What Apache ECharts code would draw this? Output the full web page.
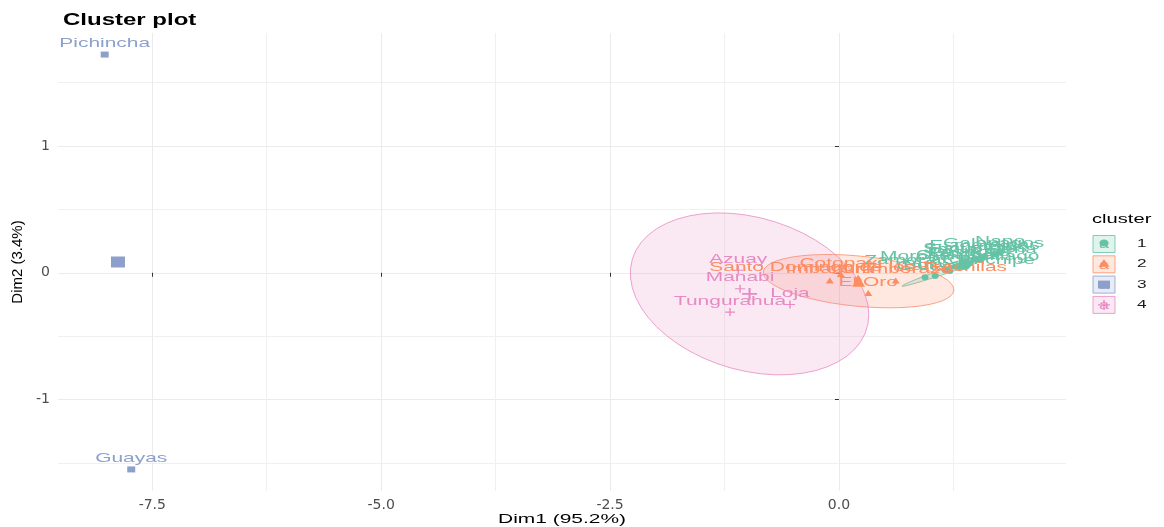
<!DOCTYPE html>
<html>
<head>
<meta charset="utf-8">
<title>Cluster plot</title>
<script src="https://cdn.jsdelivr.net/npm/echarts@6/dist/echarts.min.js"></script>
<style>
  html, body { margin: 0; padding: 0; background: #fff; }
  #chart { width: 1164px; height: 527px; }
</style>
</head>
<body>
<div id="chart"></div>
<script>
// values (Dim1, Dim2 per province)
const names1 = ['Canar', 'Bolivar', 'Carchi', 'Zamora Chinchipe', 'Orellana', 'Morona Santiago', 'Pastaza',
  'Los Rios', 'Sucumbios', 'Santa Elena', 'Esmeraldas', 'Galapagos', 'Napo']
const dim1c1 = [0.94, 1.05, 1.16, 1.21, 1.27, 1.32, 1.38, 1.43, 1.49, 1.54, 1.59, 1.69, 1.76]
const dim2c1 = [-0.035, -0.025, 0.02, 0.015, 0.05, 0.045, 0.075, 0.075, 0.105, 0.10, 0.13, 0.145, 0.16]

const names2 = ['Imbabura', 'Cotopaxi', 'Santo Domingo de los Tsachilas', 'El Oro', 'Chimborazo']
const dim1c2 = [-0.10, 0.02, 0.21, 0.32, 0.62]
const dim2c2 = [-0.06, -0.01, -0.04, -0.16, -0.06]

const names3 = ['Pichincha', 'Guayas']
const dim1c3 = [-8.02, -7.73]
const dim2c3 = [1.72, -1.55]

const names4 = ['Azuay', 'Manabi', 'Tungurahua', 'Loja']
const dim1c4 = [-1.10, -1.08, -1.19, -0.535]
const dim2c4 = [0.02, -0.126, -0.31, -0.25]

const clusterLabels = ['1', '2', '3', '4']
const xTicks = [-7.5, -5, -2.5, 0]
const xMinorTicks = [-6.25, -3.75, -1.25, 1.25]
const yTicks = [-1, 0, 1]
const yMinorTicks = [-1.5, -0.5, 0.5, 1.5]

const colors = ['#66C2A5', '#FC8D62', '#8DA0CB', '#E78AC3']
const plusPath = 'path://M4.3,0H5.7V4.3H10V5.7H5.7V10H4.3V5.7H0V4.3H4.3Z'
const symbols = ['circle', 'triangle', 'rect', plusPath]
const pointSizes = [[7, 6], [8, 6], [8, 6], [10, 8]]
const centerSizes = [[13, 11], [13, 11], [14, 11], [15, 12]]

const clusters = [
  { names: names1, xs: dim1c1, ys: dim2c1 },
  { names: names2, xs: dim1c2, ys: dim2c2 },
  { names: names3, xs: dim1c3, ys: dim2c3 },
  { names: names4, xs: dim1c4, ys: dim2c4 }
]

const rgba = (hex, a) => {
  const n = parseInt(hex.slice(1), 16)
  return `rgba(${(n >> 16) & 255},${(n >> 8) & 255},${n & 255},${a})`
}
const mean = arr => arr.reduce((s, v) => s + v, 0) / arr.length

// like stat_ellipse(type = "norm", level = 0.95)
const normEllipse = (xs, ys, level = 0.95, segments = 51) => {
  const n = xs.length
  const mx = mean(xs), my = mean(ys)
  let sxx = 0, syy = 0, sxy = 0
  for (let i = 0; i < n; i++) {
    sxx += (xs[i] - mx) ** 2
    syy += (ys[i] - my) ** 2
    sxy += (xs[i] - mx) * (ys[i] - my)
  }
  sxx /= n - 1; syy /= n - 1; sxy /= n - 1
  const r11 = Math.sqrt(sxx), r12 = sxy / r11, r22 = Math.sqrt(syy - r12 * r12)
  const dfd = n - 1
  const fq = (dfd / 2) * (Math.pow(1 - level, -2 / dfd) - 1) // qf(level, 2, dfd)
  const radius = Math.sqrt(2 * fq)
  const pts = []
  for (let k = 0; k <= segments; k++) {
    const t = (2 * Math.PI * k) / segments
    const ux = Math.cos(t), uy = Math.sin(t)
    pts.push([mx + radius * ux * r11, my + radius * (ux * r12 + uy * r22)])
  }
  return pts
}

const ellipseIdx = [0, 1, 3] // cluster 3 only has two points
const ellipses = {}
ellipseIdx.forEach(k => { ellipses[k] = normEllipse(clusters[k].xs, clusters[k].ys) })

const labelData = []
clusters.forEach((c, k) => c.names.forEach((nm, i) => labelData.push([c.xs[i], c.ys[i], k, nm])))

const chart = echarts.init(document.getElementById('chart'))

const pointSeries = clusters.map((c, k) => ({
  name: clusterLabels[k],
  type: 'scatter',
  z: 3,
  symbol: symbols[k],
  symbolSize: pointSizes[k],
  itemStyle: { color: colors[k], opacity: 1 },
  data: c.xs.map((x, i) => [x, c.ys[i]])
}))

const centerSeries = clusters.map((c, k) => ({
  name: clusterLabels[k] + ' center',
  type: 'scatter',
  z: 5,
  symbol: symbols[k],
  symbolSize: centerSizes[k],
  itemStyle: { color: colors[k], opacity: 1 },
  data: [[mean(c.xs), mean(c.ys)]]
}))

const legendTop = 244
const legendStep = 20.3
const legendItems = clusterLabels.map((lab, k) => {
  const cy = legendTop + k * legendStep
  const cx = 1104
  const col = colors[k]
  let sym
  if (k === 0) sym = { type: 'ellipse', shape: { cx, cy: cy - 1, rx: 4.6, ry: 3.6 }, style: { fill: col } }
  else if (k === 1) sym = { type: 'polygon', shape: { points: [[cx, cy - 5], [cx + 5.5, cy + 2.5], [cx - 5.5, cy + 2.5]] }, style: { fill: col } }
  else if (k === 2) sym = { type: 'rect', shape: { x: cx - 6, y: cy - 4, width: 12, height: 8 }, style: { fill: col } }
  else sym = {
    type: 'group', children: [
      { type: 'rect', shape: { x: cx - 6, y: cy - 0.6, width: 12, height: 1.2 }, style: { fill: col } },
      { type: 'rect', shape: { x: cx - 0.7, y: cy - 5, width: 1.4, height: 10 }, style: { fill: col } }
    ]
  }
  return {
    type: 'group',
    children: [
      { type: 'rect', shape: { x: 1093, y: cy - 8.5, width: 22, height: 17 }, style: { fill: rgba(col, 0.2), stroke: col, lineWidth: 0.8 } },
      { type: 'text', x: cx, y: cy + 1, scaleX: 1.5, style: { text: 'a', fill: col, fontSize: 12, fontFamily: 'Liberation Sans', align: 'center', verticalAlign: 'middle' } },
      sym,
      { type: 'text', x: 1137, y: cy, scaleX: 1.5, style: { text: lab, fill: '#1a1a1a', fontSize: 11.5, fontFamily: 'Liberation Sans', align: 'left', verticalAlign: 'middle' } }
    ]
  }
})

const option = {
  animation: false,
  backgroundColor: '#ffffff',
  grid: { left: 58, right: 98, top: 33, bottom: 36, containLabel: false },
  xAxis: [
    {
      type: 'value', min: -8.53, max: 2.48,
      axisLine: { show: false },
      axisTick: { show: true, customValues: xTicks, length: 4, lineStyle: { color: '#333333', width: 1 } },
      axisLabel: { customValues: xTicks, formatter: v => v.toFixed(1), color: '#4d4d4d', fontFamily: 'DejaVu Sans', fontSize: 14, margin: 7 },
      splitLine: { show: true, lineStyle: { color: '#EBEBEB', width: 1 } }
    },
    {
      type: 'value', min: -8.53, max: 2.48, position: 'bottom',
      axisLine: { show: false }, axisLabel: { show: false },
      axisTick: { show: false, customValues: xMinorTicks },
      splitLine: { show: true, lineStyle: { color: '#F0F0F0', width: 1 } }
    }
  ],
  yAxis: [
    {
      type: 'value', min: -1.72, max: 1.89,
      axisLine: { show: false },
      axisTick: { show: true, customValues: yTicks, length: 4, lineStyle: { color: '#333333', width: 1 } },
      axisLabel: { customValues: yTicks, formatter: v => String(Math.round(v)), color: '#4d4d4d', fontFamily: 'DejaVu Sans', fontSize: 14, margin: 8 },
      splitLine: { show: true, lineStyle: { color: '#EBEBEB', width: 1 } }
    },
    {
      type: 'value', min: -1.72, max: 1.89, position: 'left',
      axisLine: { show: false }, axisLabel: { show: false },
      axisTick: { show: false, customValues: yMinorTicks },
      splitLine: { show: true, lineStyle: { color: '#F0F0F0', width: 1 } }
    }
  ],
  series: [
    {
      name: 'ellipses',
      type: 'custom',
      z: 2,
      data: ellipseIdx.map(k => [mean(clusters[k].xs), mean(clusters[k].ys), k]),
      encode: { x: 0, y: 1 },
      renderItem: (params, api) => {
        const k = api.value(2)
        const pts = ellipses[k].map(p => api.coord(p))
        return {
          type: 'polygon',
          shape: { points: pts },
          style: { fill: rgba(colors[k], 0.2), stroke: colors[k], lineWidth: 0.8 }
        }
      }
    },
    ...pointSeries,
    {
      name: 'labels',
      type: 'custom',
      z: 4,
      data: labelData,
      encode: { x: 0, y: 1 },
      renderItem: (params, api) => {
        const p = api.coord([api.value(0), api.value(1)])
        const k = api.value(2)
        return {
          type: 'text',
          x: p[0],
          y: p[1] - 11,
          scaleX: 1.55,
          style: {
            text: labelData[params.dataIndex][3],
            fill: colors[k],
            fontSize: 13.5,
            fontFamily: 'Liberation Sans',
            align: 'center',
            verticalAlign: 'middle'
          }
        }
      }
    },
    ...centerSeries
  ],
  graphic: [
    { type: 'text', x: 63, y: 21, scaleX: 1.5, style: { text: 'Cluster plot', fill: '#000', fontSize: 16, fontWeight: 'bold', fontFamily: 'Liberation Sans', verticalAlign: 'middle' } },
    { type: 'text', x: 562, y: 519, scaleX: 1.55, style: { text: 'Dim1 (95.2%)', fill: '#000', fontSize: 13.5, fontFamily: 'Liberation Sans', align: 'center', verticalAlign: 'middle' } },
    { type: 'text', x: 18, y: 262, rotation: Math.PI / 2, style: { text: 'Dim2 (3.4%)', fill: '#000', fontSize: 15, fontFamily: 'Liberation Sans', align: 'center', verticalAlign: 'middle' } },
    { type: 'text', x: 1092, y: 219, scaleX: 1.55, style: { text: 'cluster', fill: '#000', fontSize: 13, fontFamily: 'Liberation Sans', verticalAlign: 'middle' } },
    ...legendItems
  ]
}

chart.setOption(option)
</script>
</body>
</html>
